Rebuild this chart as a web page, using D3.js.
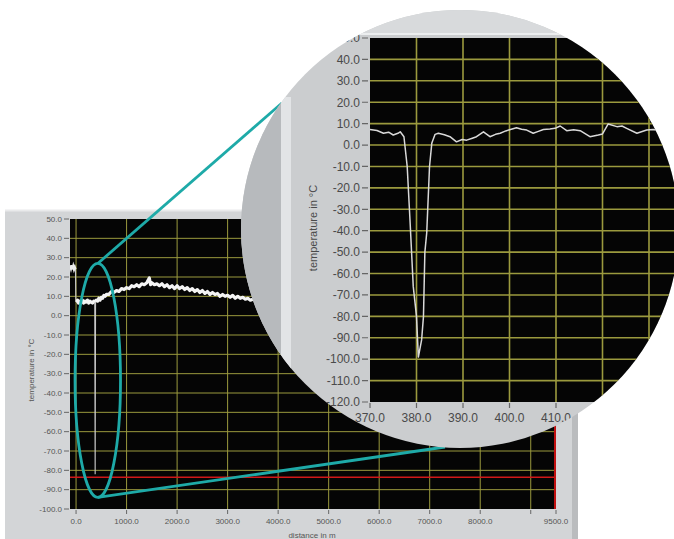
<!DOCTYPE html>
<html>
<head>
<meta charset="utf-8">
<script src="https://cdn.jsdelivr.net/npm/d3@7/dist/d3.min.js"></script>
<style>
body { margin: 0; background: #fff; }
svg { display: block; font-family: "Liberation Sans", Arial, sans-serif; }
</style>
</head>
<body>
<svg width="674" height="539"></svg>
<script>
// whole fibre: distance in m, temperature in °C
var mainDist = [-115, -100, -85, -70, -55, -40, -25, -12, -5, 10, 30, 50, 75, 100, 125, 150, 175, 200, 225, 250,
    275, 300, 325, 350, 370, 378, 386, 400, 425, 450, 475, 500, 525, 550, 575, 600, 650, 700, 750, 800,
    850, 900, 950, 1000, 1050, 1100, 1150, 1200, 1250, 1300, 1350, 1400, 1450, 1475, 1500, 1550, 1600, 1650, 1700, 1750,
    1800, 1850, 1900, 1950, 2000, 2050, 2100, 2150, 2200, 2250, 2300, 2350, 2400, 2450, 2500, 2550, 2600, 2650, 2700, 2750,
    2800, 2850, 2900, 2950, 3000, 3050, 3100, 3150, 3200, 3250, 3300, 3350, 3400, 3450, 3500];
var mainTemp = [26, 24.5, 26, 24, 25.5, 24, 25, 24, 8, 7, 8, 6.5, 7.5, 7, 8, 6.5, 7.5, 7, 8, 6.5,
    7.5, 7, 6.5, 7.5, 7, -82, 7.5, 8, 7.5, 9, 8, 9.5, 9, 10.5, 10, 11, 11, 12.5, 12, 13,
    12.5, 14, 13.5, 14.5, 14, 15.5, 15, 16, 15, 16.5, 16, 17, 19.5, 16, 17, 16, 16.5, 15.5, 16.5, 15,
    16, 14.5, 15.5, 14, 15.5, 14, 15, 13.5, 14.5, 13, 14, 12.5, 13.5, 12, 13, 11.5, 12.5, 11, 12, 11,
    11.5, 10, 11, 10, 10.5, 9.5, 10.5, 9, 10, 9, 9.5, 8.5, 9, 8, 8.5];

// magnified part around the cold spot
var zoomDist = [370.0, 371.5, 372.9, 374.0, 375.0, 376.0, 376.5, 377.3, 378.0, 378.6, 379.3, 380.0, 380.4, 381.1, 381.5, 381.8,
    382.2, 382.8, 383.3, 384.0, 384.7, 386.0, 387.2, 388.6, 389.8, 390.8, 392.0, 392.9, 394.4, 395.8, 397.0, 398.0,
    399.2, 400.2, 401.5, 402.6, 403.7, 405.1, 406.2, 407.3, 408.7, 409.8, 410.9, 412.3, 413.8, 415.2, 417.3, 419.1,
    420.0, 421.2, 423.1, 424.2, 425.2, 427.4, 429.5, 430.9, 432.5, 434.5];
var zoomTemp = [7.3, 6.8, 5.5, 6.0, 4.7, 5.5, 6.2, 3.9, -10, -35, -66, -80, -99, -91, -80, -50,
    -41, -10, 1, 5, 5.5, 4.8, 3.9, 1.5, 2.6, 2.3, 3.2, 3.9, 6.2, 3.9, 5.0, 5.5,
    6.6, 7.3, 8.1, 7.4, 7.0, 5.5, 6.4, 7.3, 7.5, 7.8, 8.9, 6.7, 7.2, 6.7, 3.9, 4.7,
    5.2, 9.8, 8.6, 8.9, 7.8, 5.5, 7.0, 7.3, 6.6, 7.0];

var mainYTicks = [50, 40, 30, 20, 10, 0, -10, -20, -30, -40, -50, -60, -70, -80, -90, -100];
var mainXTicks = [0, 1000, 2000, 3000, 4000, 5000, 6000, 7000, 8000, 9500];
var mainXGrid = [0, 1000, 2000, 3000, 4000, 5000, 6000, 7000, 8000, 9000];
var zoomYTicks = [50, 40, 30, 20, 10, 0, -10, -20, -30, -40, -50, -60, -70, -80, -90, -100, -110, -120];
var zoomXTicks = [370, 380, 390, 400, 410];
var zoomXGrid = [380, 390, 400, 410, 420, 430];
var cursorTemp = -83.6;
var cursorDist = 9500;

var fmt = function(d){ return d.toFixed(1); };
var grid = "#9b9a3e";
var teal = "#1eaaa8";

var svg = d3.select("svg");

function drawMain(){
    var x = d3.scaleLinear().domain([-120, 9500]).range([70, 556]);
    var y = d3.scaleLinear().domain([-100, 50]).range([509, 219]);

    // panel
    svg.append("rect").attr("x", 5).attr("y", 210).attr("width", 573).attr("height", 340).attr("fill", "#d3d5d7");
    svg.append("line").attr("x1", 5).attr("x2", 578).attr("y1", 210.5).attr("y2", 210.5).attr("stroke", "#e9eaeb").attr("stroke-width", 2);
    svg.append("rect").attr("x", 572).attr("y", 210).attr("width", 6).attr("height", 340).attr("fill", "#babcbe");

    svg.append("clipPath").attr("id", "plot")
        .append("rect").attr("x", 70).attr("y", 219).attr("width", 486).attr("height", 290);

    var g = svg.append("g").attr("clip-path", "url(#plot)");
    g.append("rect").attr("x", 70).attr("y", 219).attr("width", 486).attr("height", 290).attr("fill", "#050505");

    g.selectAll(".hg").data(mainYTicks.slice(1, -1)).enter().append("line")
        .attr("x1", 70).attr("x2", 556)
        .attr("y1", d => y(d)).attr("y2", d => y(d))
        .attr("stroke", grid).attr("stroke-width", 1);
    g.selectAll(".vg").data(mainXGrid).enter().append("line")
        .attr("x1", d => x(d)).attr("x2", d => x(d))
        .attr("y1", 219).attr("y2", 509)
        .attr("stroke", grid).attr("stroke-width", 1);

    // cursors
    g.append("line").attr("x1", 70).attr("x2", 558).attr("y1", y(cursorTemp)).attr("y2", y(cursorTemp))
        .attr("stroke", "#d01818").attr("stroke-width", 1.5);
    g.append("line").attr("x1", x(cursorDist) - 1).attr("x2", x(cursorDist) - 1).attr("y1", 219).attr("y2", 509)
        .attr("stroke", "#c01010").attr("stroke-width", 2);

    // thin pass for the whole trace, thick noisy band where it is not the dip
    var thin = d3.line().x((d, i) => x(mainDist[i])).y(d => y(d));
    g.append("path").datum(mainTemp).attr("d", thin)
        .attr("fill", "none").attr("stroke", "#c8c8c8").attr("stroke-width", 1.1);
    var band = d3.line().defined((d, i) => d > -50 && mainDist[i] > 0)
        .x((d, i) => x(mainDist[i])).y(d => y(d));
    g.append("path").datum(mainTemp).attr("d", band)
        .attr("fill", "none").attr("stroke", "#f4f4f4").attr("stroke-width", 3.2).attr("stroke-linejoin", "round");
    var head = d3.line().defined((d, i) => mainDist[i] < -8)
        .x((d, i) => x(mainDist[i])).y(d => y(d));
    g.append("path").datum(mainTemp).attr("d", head)
        .attr("fill", "none").attr("stroke", "#eeeeee").attr("stroke-width", 2.4);

    // axes
    svg.selectAll(".yt").data(mainYTicks).enter().append("line")
        .attr("x1", 64).attr("x2", 69).attr("y1", d => y(d)).attr("y2", d => y(d))
        .attr("stroke", "#666");
    svg.selectAll(".yl").data(mainYTicks).enter().append("text")
        .attr("x", 62).attr("y", d => y(d)).attr("dy", "0.35em")
        .attr("text-anchor", "end").attr("font-size", 8).attr("fill", "#555")
        .text(fmt);
    svg.selectAll(".xt").data(mainXTicks.concat([9000])).enter().append("line")
        .attr("x1", d => x(d)).attr("x2", d => x(d)).attr("y1", 510).attr("y2", 514)
        .attr("stroke", "#666");
    svg.selectAll(".xl").data(mainXTicks).enter().append("text")
        .attr("x", d => x(d)).attr("y", 524)
        .attr("text-anchor", "middle").attr("font-size", 8).attr("fill", "#555")
        .text(fmt);
    svg.append("text").attr("x", 312).attr("y", 538).attr("text-anchor", "middle")
        .attr("font-size", 8).attr("fill", "#555").text("distance in m");
    svg.append("text").attr("transform", "translate(34,370) rotate(-90)").attr("text-anchor", "middle")
        .attr("font-size", 8).attr("fill", "#555").text("temperature in °C");

    // marker round the cold spot
    var cx = x(430), top = y(27), bottom = y(-94);
    svg.append("ellipse").attr("cx", cx).attr("cy", (top + bottom) / 2)
        .attr("rx", x(880) - x(430)).attr("ry", (bottom - top) / 2)
        .attr("fill", "none").attr("stroke", teal).attr("stroke-width", 2.8);
    svg.append("line").attr("x1", cx).attr("y1", top).attr("x2", 282).attr("y2", 103)
        .attr("stroke", teal).attr("stroke-width", 2.8);
    svg.append("line").attr("x1", cx).attr("y1", bottom).attr("x2", 445).attr("y2", 447)
        .attr("stroke", teal).attr("stroke-width", 2.8);
}

function drawLens(){
    var lx = 460, ly = 229, lr = 219;
    var x = d3.scaleLinear().domain([370, 440]).range([370, 695.5]);
    var y = d3.scaleLinear().domain([-120, 50]).range([402, 38]);

    svg.append("clipPath").attr("id", "lens")
        .append("circle").attr("cx", lx).attr("cy", ly).attr("r", lr);
    var g = svg.append("g").attr("clip-path", "url(#lens)");

    g.append("rect").attr("x", 230).attr("y", 0).attr("width", 460).attr("height", 460).attr("fill", "#cbcdcf");
    g.append("rect").attr("x", 230).attr("y", 0).attr("width", 460).attr("height", 33).attr("fill", "#d8dadc");
    g.append("line").attr("x1", 290).attr("x2", 690).attr("y1", 34).attr("y2", 34).attr("stroke", "#eceeef").attr("stroke-width", 2);
    g.append("rect").attr("x", 230).attr("y", 100).attr("width", 51).attr("height", 360).attr("fill", "#b7babd");
    g.append("rect").attr("x", 281).attr("y", 97).attr("width", 10).attr("height", 363).attr("fill", "#e2e4e6");

    g.append("rect").attr("x", 370).attr("y", 38).attr("width", 330).attr("height", 364).attr("fill", "#050505");
    g.selectAll(".hg").data(zoomYTicks.slice(1, -1)).enter().append("line")
        .attr("x1", 370).attr("x2", 700)
        .attr("y1", d => y(d)).attr("y2", d => y(d))
        .attr("stroke", grid).attr("stroke-width", 1.6);
    g.selectAll(".vg").data(zoomXGrid).enter().append("line")
        .attr("x1", d => x(d)).attr("x2", d => x(d))
        .attr("y1", 38).attr("y2", 402)
        .attr("stroke", grid).attr("stroke-width", 1.6);

    var line = d3.line().x((d, i) => x(zoomDist[i])).y(d => y(d));
    g.append("path").datum(zoomTemp).attr("d", line)
        .attr("fill", "none").attr("stroke", "#d9d9d9").attr("stroke-width", 1.5).attr("stroke-linejoin", "round");

    g.selectAll(".yt").data(zoomYTicks).enter().append("line")
        .attr("x1", 362).attr("x2", 368).attr("y1", d => y(d)).attr("y2", d => y(d))
        .attr("stroke", "#666").attr("stroke-width", 1.2);
    g.selectAll(".yl").data(zoomYTicks).enter().append("text")
        .attr("x", 360).attr("y", d => y(d)).attr("dy", "0.36em")
        .attr("text-anchor", "end").attr("font-size", 12).attr("fill", "#4a4a4a")
        .text(fmt);
    g.selectAll(".xt").data(zoomXTicks).enter().append("line")
        .attr("x1", d => x(d)).attr("x2", d => x(d)).attr("y1", 403).attr("y2", 408)
        .attr("stroke", "#666").attr("stroke-width", 1.2);
    g.selectAll(".xl").data(zoomXTicks).enter().append("text")
        .attr("x", d => x(d)).attr("y", 422)
        .attr("text-anchor", "middle").attr("font-size", 12).attr("fill", "#4a4a4a")
        .text(fmt);
    g.append("text").attr("transform", "translate(317,228) rotate(-90)").attr("text-anchor", "middle")
        .attr("font-size", 11).attr("fill", "#4a4a4a").text("temperature in °C");
}

drawMain();
drawLens();
</script>
</body>
</html>
